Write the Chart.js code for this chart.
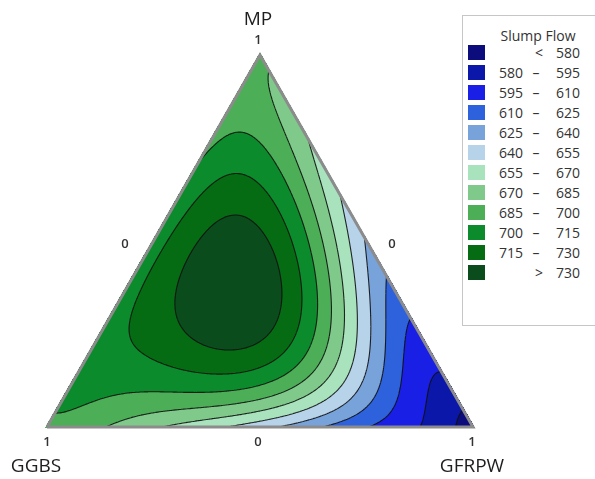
<!DOCTYPE html>
<html>
<head>
<meta charset="utf-8">
<script src="https://cdn.jsdelivr.net/npm/chart.js@4.4.1/dist/chart.umd.min.js"></script>
<style>
  body { margin: 0; background: #fff; font-family: "Open Sans", sans-serif; overflow: hidden; }
  #wrap { position: relative; width: 595px; height: 479px; }
  #chart { position: absolute; left: 0; top: 0; }
  .lbl { position: absolute; color: #1e1e1e; transform: translate(-50%, -50%); white-space: nowrap; }
  .axis { font-size: 19px; }
  .tick { font-size: 13px; font-weight: 600; color: #333; }
  #legend { position: absolute; left: 462px; top: 15px; width: 150px; height: 311px;
            border: 1px solid #c6c6c6; box-sizing: border-box; background: #fff; }
  #legend .ttl { position: absolute; left: 75px; top: 19px; font-size: 14px; color: #333; transform: translate(-50%, -50%); white-space: nowrap; }
  #legend .sw { position: absolute; left: 5px; width: 17px; height: 15px; }
  #legend .t { position: absolute; font-size: 14px; color: #333; white-space: nowrap; }
</style>
</head>
<body>
<div id="wrap">
  <canvas id="chart" width="595" height="479"></canvas>
  <div id="labels"></div>
  <div id="legend"><div class="ttl">Slump Flow</div></div>
</div>
<script>
// mixture components at the vertices (top, bottom-left, bottom-right)
const components = ['MP', 'GGBS', 'GFRPW'];
const levels = [580, 595, 610, 625, 640, 655, 670, 685, 700, 715, 730];
const bandLabels = [['', '<', '580'], ['580', '–', '595'], ['595', '–', '610'], ['610', '–', '625'],
  ['625', '–', '640'], ['640', '–', '655'], ['655', '–', '670'], ['670', '–', '685'],
  ['685', '–', '700'], ['700', '–', '715'], ['715', '–', '730'], ['', '>', '730']];
const bandColors = ['#0c0c7c', '#0b17a8', '#1a1fe6', '#2e62dc', '#78a2da', '#b7d3e9',
  '#a9e3bd', '#7fca8a', '#4caf57', '#0b8b2c', '#056c14', '#0a4c1c'];

// slump flow at mixture points (fractions of MP, GGBS, GFRPW)
const mpFrac = [1, 0, 0, .382,
  .559, .524, .395, .261, .220, .293, .368, .462,
  .675, .602, .441, .269, .159, .142, .180, .341, .530,
  .046, .059, .091, .126, .148, .180, .261, .368, .500, .624, .745, .798, .782, .718,
  .927, .844, .718, .500, .341, .250, .153, .113, .081, .046, 0,
  .798, .718, .500, .250, .140, .073, .038, 0,
  .640, .500, .250, .126, .046, 0,
  .455, .250, .113, .040, 0,
  .387, .250, .100, 0,
  .320, .250, .086, 0,
  .113, .073, 0,
  .046, 0,
  .860, .600, .450, .300, .150, .040,
  .879, .200, .100, 0,
  .851, .772, .780, .046, .153, .032, 0, 0, 0, 0, 0, 0, .860, .720, .550, .270,
  .763, .790, .782, .691, .852, .825];
const ggbsFrac = [0, 1, 0, .406,
  .281, .231, .259, .363, .530, .575, .526, .443,
  .194, .349, .524, .674, .678, .499, .339, .222, .150,
  .946, .909, .736, .484, .367, .304, .244, .192, .142, .103, .084, .121, .181, .282,
  0, .032, .067, .107, .168, .214, .287, .349, .506, .681, .859,
  0, .020, .076, .179, .253, .369, .528, .718,
  0, .046, .148, .225, .336, .582,
  0, .118, .196, .292, .441,
  0, .090, .168, .359,
  0, .062, .140, .270,
  0, .076, .101,
  0, .038,
  .140, .400, .550, .700, .850, .960,
  .061, 0, .075, .200,
  .106, .181, .220, .148, .071, .026, .930, .790, .650, .510, .400, .310, 0, 0, 0, 0,
  .221, .172, .094, .088, .094, .088];
const gfrpwFrac = [0, 0, 1, .212,
  .160, .245, .346, .376, .250, .132, .106, .095,
  .131, .049, .035, .057, .163, .359, .481, .437, .320,
  .008, .032, .173, .390, .485, .516, .495, .440, .358, .273, .171, .081, .037, 0,
  .073, .124, .215, .393, .491, .536, .560, .538, .413, .273, .141,
  .202, .262, .424, .571, .607, .558, .434, .282,
  .360, .454, .602, .649, .618, .418,
  .545, .632, .691, .668, .559,
  .613, .660, .732, .641,
  .680, .688, .774, .730,
  .887, .851, .899,
  .954, .962,
  0, 0, 0, 0, 0, 0,
  .060, .800, .825, .800,
  .043, .047, 0, .806, .776, .942, .070, .210, .350, .490, .600, .690, .140, .280, .450, .730,
  .016, .038, .124, .221, .054, .087];
const slumpFlow = [688, 697, 565, 738,
  730, 730, 730, 730, 730, 730, 730, 730,
  715, 715, 715, 715, 715, 715, 715, 715, 715,
  700, 700, 700, 700, 700, 700, 700, 700, 700, 700, 700, 700, 700, 700,
  685, 685, 685, 685, 685, 685, 685, 685, 685, 685, 685,
  670, 670, 670, 670, 670, 670, 670, 670,
  655, 655, 655, 655, 655, 655,
  640, 640, 640, 640, 640,
  625, 625, 625, 625,
  610, 610, 610, 610,
  595, 595, 595,
  580, 580,
  694, 704, 707, 708, 706, 701,
  688, 600, 600, 603,
  690, 698, 698.5, 602, 603, 580, 691, 677, 662, 647, 632, 617, 678, 663, 647, 604,
  700, 700, 700, 700, 690, 691];

// smooth response surface through the readings (polynomial in GGBS, GFRPW);
// readings on the sides and near the MP corner count more
const DEG = 6;
const RIDGE = 1e-6;
function terms(b, c) {
  const t = [];
  for (let i = 0; i <= DEG; i++)
    for (let j = 0; j <= DEG - i; j++) t.push(Math.pow(b, i) * Math.pow(c, j));
  return t;
}
function fitSurface() {
  const n = (DEG + 1) * (DEG + 2) / 2;
  const M = Array.from({ length: n }, () => new Array(n + 1).fill(0));
  slumpFlow.forEach((v, k) => {
    const t = terms(ggbsFrac[k], gfrpwFrac[k]);
    let wt = (mpFrac[k] === 0 || ggbsFrac[k] === 0 || gfrpwFrac[k] === 0) ? 3 : 1;
    if (mpFrac[k] > 0.7) wt = 5;
    for (let r = 0; r < n; r++) {
      for (let s = 0; s < n; s++) M[r][s] += wt * t[r] * t[s];
      M[r][n] += wt * t[r] * v;
    }
  });
  for (let r = 0; r < n; r++) M[r][r] += RIDGE;
  for (let col = 0; col < n; col++) {
    let p = col;
    for (let r = col + 1; r < n; r++) if (Math.abs(M[r][col]) > Math.abs(M[p][col])) p = r;
    [M[col], M[p]] = [M[p], M[col]];
    for (let r = 0; r < n; r++) {
      if (r === col) continue;
      const f = M[r][col] / M[col][col];
      for (let s = col; s <= n; s++) M[r][s] -= f * M[col][s];
    }
  }
  return M.map((row, r) => row[n] / row[r]);
}
const coef = fitSurface();
function flowAt(b, c) {
  const t = terms(b, c);
  let v = 0;
  for (let k = 0; k < t.length; k++) v += coef[k] * t[k];
  return v;
}
function bandOf(v) {
  let k = 0;
  while (k < levels.length && v >= levels[k]) k++;
  return k;
}

const contourPlugin = {
  id: 'contour',
  beforeDatasetsDraw(chart) {
    const { ctx, scales: { x, y } } = chart;
    const x0 = Math.floor(x.getPixelForValue(0)) - 2, x1 = Math.ceil(x.getPixelForValue(1)) + 2;
    const y0 = Math.floor(y.getPixelForValue(1)) - 2, y1 = Math.ceil(y.getPixelForValue(0)) + 2;
    const w = x1 - x0, h = y1 - y0;
    const off = document.createElement('canvas');
    off.width = w; off.height = h;
    const octx = off.getContext('2d');
    const img = octx.createImageData(w, h);
    const rgb = bandColors.map(s => [1, 3, 5].map(i => parseInt(s.slice(i, i + 2), 16)));
    for (let j = 0; j < h; j++) {
      const a = y.getValueForPixel(y0 + j + 0.5);
      for (let i = 0; i < w; i++) {
        const c = x.getValueForPixel(x0 + i + 0.5) - a / 2;
        const b = 1 - a - c;
        if (a < -0.004 || b < -0.004 || c < -0.004) continue;
        const col = rgb[bandOf(flowAt(b, c))];
        const p = (j * w + i) * 4;
        img.data[p] = col[0]; img.data[p + 1] = col[1]; img.data[p + 2] = col[2]; img.data[p + 3] = 255;
      }
    }
    octx.putImageData(img, 0, 0);
    ctx.drawImage(off, x0, y0);

    // contour lines by marching triangles on a fine simplex mesh
    const N = 200;
    const V = [];
    for (let i = 0; i <= N; i++) {
      V.push([]);
      for (let j = 0; j <= N - i; j++) V[i].push(flowAt(1 - i / N - j / N, j / N));
    }
    const P = (i, j) => [x.getPixelForValue(j / N + i / N / 2), y.getPixelForValue(i / N)];
    ctx.save();
    ctx.beginPath();
    const seg = (pts, L) => {
      const cut = [];
      for (let e = 0; e < 3; e++) {
        const [ia, ja] = pts[e], [ib, jb] = pts[(e + 1) % 3];
        const va = V[ia][ja], vb = V[ib][jb];
        if ((va - L) * (vb - L) < 0) {
          const t = (L - va) / (vb - va);
          const pa = P(ia, ja), pb = P(ib, jb);
          cut.push([pa[0] + t * (pb[0] - pa[0]), pa[1] + t * (pb[1] - pa[1])]);
        }
      }
      if (cut.length === 2) { ctx.moveTo(cut[0][0], cut[0][1]); ctx.lineTo(cut[1][0], cut[1][1]); }
    };
    for (let i = 0; i < N; i++) {
      for (let j = 0; j < N - i; j++) {
        const up = [[i, j], [i + 1, j], [i, j + 1]];
        levels.forEach(L => seg(up, L));
        if (i + j + 2 <= N) {
          const dn = [[i + 1, j], [i + 1, j + 1], [i, j + 1]];
          levels.forEach(L => seg(dn, L));
        }
      }
    }
    ctx.strokeStyle = 'rgba(15,15,15,0.9)';
    ctx.lineWidth = 1.1;
    ctx.stroke();
    ctx.restore();
  }
};

new Chart(document.getElementById('chart'), {
  type: 'line',
  data: {
    datasets: [{
      data: [{ x: 0, y: 0 }, { x: 1, y: 0 }, { x: 0.5, y: 1 }, { x: 0, y: 0 }],
      borderColor: '#8c8c8c',
      borderWidth: 3,
      pointRadius: 0,
      fill: false,
      clip: false
    }]
  },
  options: {
    responsive: false,
    animation: false,
    layout: { padding: { left: 47, right: 122, top: 55, bottom: 52 } },
    scales: {
      x: { type: 'linear', min: 0, max: 1, display: false },
      y: { type: 'linear', min: 0, max: 1, display: false }
    },
    plugins: { legend: { display: false }, tooltip: { enabled: false } }
  },
  plugins: [contourPlugin]
});

// axis titles and tick labels
const labels = document.getElementById('labels');
[[components[0], 258, 18, 'axis'], ['1', 258, 39, 'tick'], ['0', 125, 243, 'tick'], ['0', 392, 243, 'tick'],
 ['1', 47, 441, 'tick'], ['0', 258, 441, 'tick'], ['1', 472, 441, 'tick'],
 [components[1], 36, 465, 'axis'], [components[2], 472, 465, 'axis']].forEach(([txt, lx, ly, cls]) => {
  const d = document.createElement('div');
  d.className = 'lbl ' + cls;
  d.textContent = txt;
  d.style.left = lx + 'px';
  d.style.top = ly + 'px';
  labels.appendChild(d);
});

// legend rows
const legend = document.getElementById('legend');
bandLabels.forEach(([lo, mid, hi], i) => {
  const cy = 36 + 20 * i;
  const sw = document.createElement('div');
  sw.className = 'sw';
  sw.style.top = (cy - 7.5) + 'px';
  sw.style.background = bandColors[i];
  legend.appendChild(sw);
  [[lo, 60, 'translate(-100%,-50%)'], [mid, mid === '–' ? 73 : 76, 'translate(-50%,-50%)'],
   [hi, 117, 'translate(-100%,-50%)']].forEach(([txt, lx, tr]) => {
    if (!txt) return;
    const s = document.createElement('div');
    s.className = 't';
    s.textContent = txt;
    s.style.left = lx + 'px';
    s.style.top = cy + 'px';
    s.style.transform = tr;
    legend.appendChild(s);
  });
});
</script>
</body>
</html>
